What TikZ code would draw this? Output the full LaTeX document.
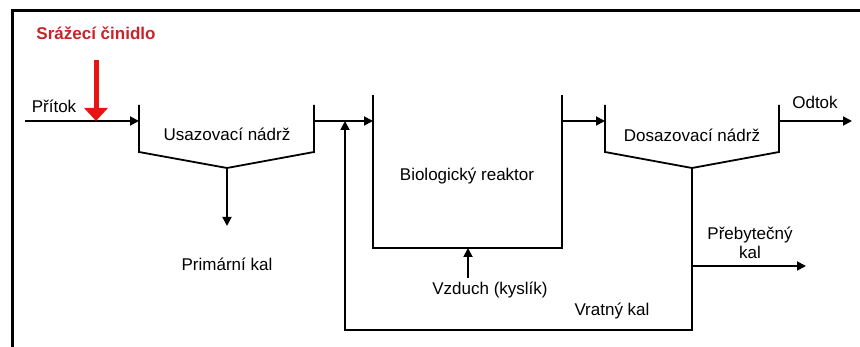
\documentclass[tikz,border=0pt]{standalone}
\usepackage{fontspec}
\setmainfont{Liberation Sans}
\usetikzlibrary{arrows.meta,positioning}
\definecolor{cinidlored}{RGB}{200,35,40}
\definecolor{arrowred}{RGB}{232,20,20}

\begin{document}
\begin{tikzpicture}[
  x=1pt, y=-1pt,
  every node/.style={inner sep=0pt, anchor=base, font=\fontsize{17}{19}\selectfont},
  pipe/.style={line width=1.8pt},
  arrow/.style={pipe, -{Triangle[length=9pt,width=9pt]}},
  tank/.style={line width=1.8pt, line join=miter}
]
\useasboundingbox (0,0) rectangle (860,347);
\draw[line width=3pt] (12.5,347) -- (12.5,10.5) -- (860,10.5);

\coordinate (inflow) at (25,121);
\coordinate (usaz-in) at (139,121);
\coordinate (usaz-out) at (314,121);
\coordinate (usaz-low) at (227,168);
\coordinate (primkal) at (227,226);
\coordinate (reak-in) at (373,121);
\coordinate (reak-out) at (562,121);
\coordinate (air) at (468,278);
\coordinate (air-in) at (468,248);
\coordinate (dosaz-in) at (605,121);
\coordinate (dosaz-out) at (779,121);
\coordinate (dosaz-low) at (692,168);
\coordinate (outflow) at (852,121);
\coordinate (excess) at (692,266);
\coordinate (excess-end) at (806,266);
\coordinate (ret-corner) at (692,330);
\coordinate (ret-up) at (345,330);
\coordinate (ret-in) at (345,121);
\coordinate (cin-top) at (96,60);
\coordinate (cin-tip) at (96,121);

\draw[tank] (139,105) -- (139,152) -- (usaz-low) -- (314,152) -- (314,105);
\draw[tank] (373,95) -- (373,248) -- (562,248) -- (562,95);
\draw[tank] (605,105) -- (605,152) -- (dosaz-low) -- (779,152) -- (779,105);

\node[text=cinidlored, font=\fontsize{17}{19}\selectfont\bfseries] (cinidlo) at (96,40) {Srážecí činidlo};
\node (pritok) at (54,113) {Přítok};
\node (usaz) at (227,141) {Usazovací nádrž};
\node (primar) at (227,271) {Primární kal};
\node (reaktor) at (467,181) {Biologický reaktor};
\node (vzduch) at (490,295) {Vzduch (kyslík)};
\node (dosaz) at (692,142) {Dosazovací nádrž};
\node (odtok) at (815,109) {Odtok};
\node[align=center, anchor=center] (prebyt) at (750,243) {Přebytečný\\kal};
\node (vratny) at (612,316) {Vratný kal};

\draw[arrow] (inflow) -- (usaz-in);
\draw[arrow] (usaz-out) -- (reak-in);
\draw[arrow] (usaz-low) -- (primkal);
\draw[arrow] (air) -- (air-in);
\draw[arrow] (reak-out) -- (dosaz-in);
\draw[arrow] (dosaz-out) -- (outflow);
\draw[arrow] (excess) -- (excess-end);
\draw[arrow] (dosaz-low) -- (ret-corner) -- (ret-up) -- (ret-in);
\draw[arrowred, line width=5pt, -{Triangle[length=13pt,width=23pt]}] (cin-top) -- (cin-tip);
\end{tikzpicture}
\end{document}
